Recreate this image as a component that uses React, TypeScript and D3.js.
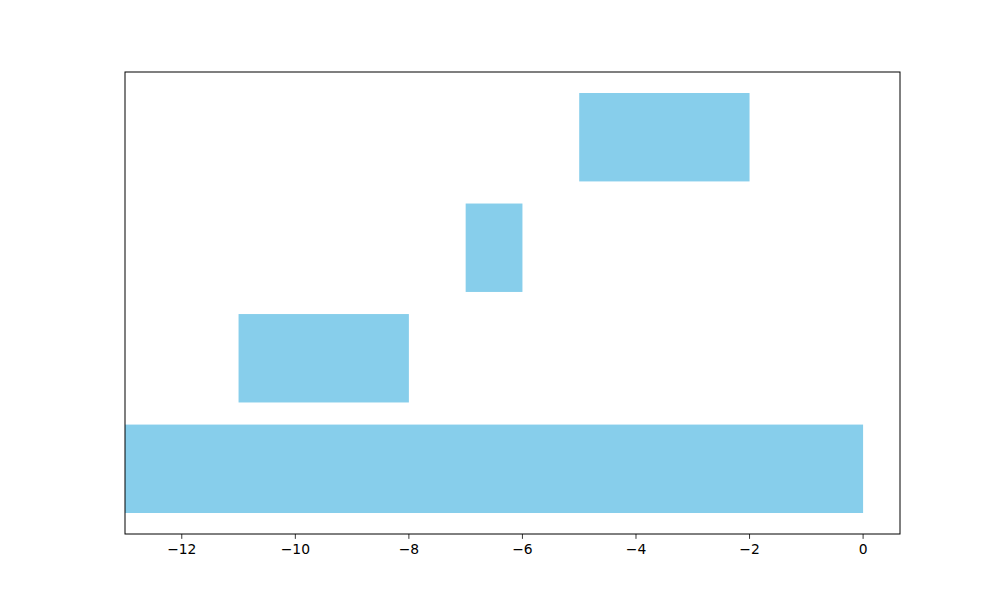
import React from "react";
import * as d3 from "d3";

const categories = [0, 1, 2, 3];
const starts = [-13, -11, -7, -5];
const ends = [0, -8, -6, -2];
const xTicks = [-12, -10, -8, -6, -4, -2, 0];

export default function App() {
  const W = 1000, H = 600;
  const left = 125, right = 900, top = 72, bottom = 534;
  const x = d3.scaleLinear().domain([-13, 0.65]).range([left, right]);
  const y = d3.scaleLinear().domain([-0.59, 3.59]).range([bottom, top]);
  const bh = 0.8;
  const fmt = (v: number) => (v < 0 ? "\u2212" + Math.abs(v) : String(v));
  return (
    <svg width={W} height={H} style={{ position: "absolute", left: 0, top: 0, background: "#fff" }}
      fontFamily="DejaVu Sans, sans-serif">
      <defs>
        <clipPath id="clip">
          <rect x={left} y={top} width={right - left} height={bottom - top} />
        </clipPath>
      </defs>
      <g clipPath="url(#clip)">
        {categories.map((c, i) => (
          <rect key={c}
            x={x(starts[i])}
            width={x(ends[i]) - x(starts[i])}
            y={y(c + bh / 2)}
            height={y(c - bh / 2) - y(c + bh / 2)}
            fill="#87CEEB" />
        ))}
      </g>
      <rect x={left} y={top} width={right - left} height={bottom - top} fill="none" stroke="#000" strokeWidth={1} />
      {xTicks.map((t) => (
        <g key={t}>
          <line x1={x(t)} x2={x(t)} y1={bottom} y2={bottom + 4.86} stroke="#000" strokeWidth={0.8} />
          <text x={x(t)} y={bottom + 20} fontSize={13.89} textAnchor="middle" fill="#000">{fmt(t)}</text>
        </g>
      ))}
    </svg>
  );
}
